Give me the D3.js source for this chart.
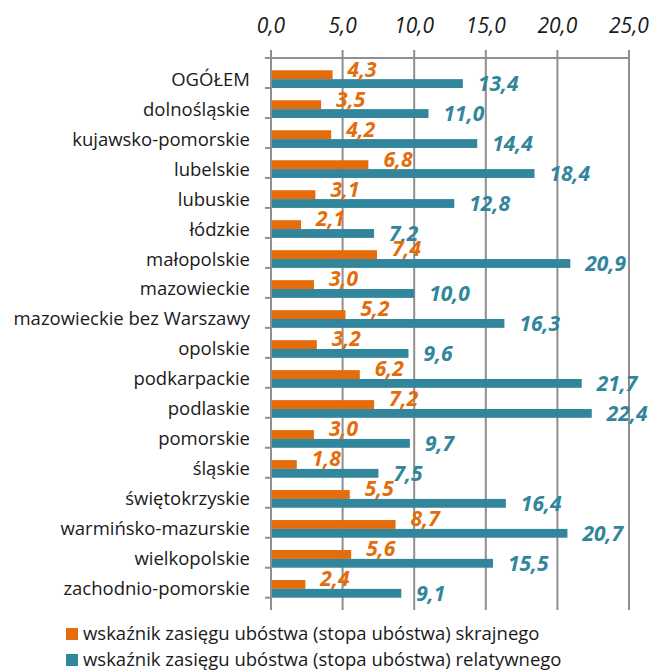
<!DOCTYPE html>
<html>
<head>
<meta charset="utf-8">
<script src="https://cdn.jsdelivr.net/npm/d3@7"></script>
<style>
  body { margin: 0; background: #fff; }
  text { font-family: "Open Sans", sans-serif; }
</style>
</head>
<body>
<div id="chart"></div>
<script>
const width = 653;
const height = 670;

const margin = { top: 58, left: 271, right: 24, bottom: 60 };

// data
const categories = ["OGÓŁEM", "dolnośląskie", "kujawsko-pomorskie", "lubelskie", "lubuskie",
    "łódzkie", "małopolskie", "mazowieckie", "mazowieckie bez Warszawy", "opolskie",
    "podkarpackie", "podlaskie", "pomorskie", "śląskie", "świętokrzyskie",
    "warmińsko-mazurskie", "wielkopolskie", "zachodnio-pomorskie"];
const skrajne = [4.3, 3.5, 4.2, 6.8, 3.1, 2.1, 7.4, 3.0, 5.2, 3.2, 6.2, 7.2, 3.0, 1.8, 5.5, 8.7, 5.6, 2.4];
const relatywne = [13.4, 11.0, 14.4, 18.4, 12.8, 7.2, 20.9, 10.0, 16.3, 9.6, 21.7, 22.4, 9.7, 7.5, 16.4, 20.7, 15.5, 9.1];
const seriesNames = ["wskaźnik zasięgu ubóstwa (stopa ubóstwa) skrajnego",
    "wskaźnik zasięgu ubóstwa (stopa ubóstwa) relatywnego"];
const xTicks = [0, 5, 10, 15, 20, 25];

const colors = ["#e46c0a", "#31869b"];
const gridColor = "#8f8f8f";

const rows = categories.map((c, i) => ({ cat: c, values: [skrajne[i], relatywne[i]] }));

const fmt = v => d3.format(".1f")(v).replace(".", ",");

// scales
const x = d3.scaleLinear().domain([0, 25]).range([margin.left, width - margin.right]);
const y = d3.scaleBand().domain(categories).range([margin.top, height - margin.bottom]).padding(0.41);
const ySub = d3.scaleBand().domain([0, 1]).range([0, y.bandwidth()]);
const step = y.step();

const svg = d3.select("#chart").append("svg").attr("width", width).attr("height", height);

// vertical gridlines
svg.append("g")
    .selectAll("line")
    .data(xTicks)
    .join("line")
    .attr("x1", d => x(d)).attr("x2", d => x(d))
    .attr("y1", margin.top - 8).attr("y2", height - margin.bottom)
    .attr("stroke", gridColor).attr("stroke-width", 2);

// top axis line
svg.append("line")
    .attr("x1", x(0) - 6).attr("x2", x(25) + 1)
    .attr("y1", margin.top).attr("y2", margin.top)
    .attr("stroke", gridColor).attr("stroke-width", 2);

// category ticks
svg.append("g")
    .selectAll("line")
    .data(d3.range(categories.length + 1))
    .join("line")
    .attr("x1", x(0) - 6).attr("x2", x(0))
    .attr("y1", i => margin.top + i * step).attr("y2", i => margin.top + i * step)
    .attr("stroke", gridColor).attr("stroke-width", 2);

// x tick labels
svg.append("g")
    .selectAll("text")
    .data(xTicks)
    .join("text")
    .attr("x", d => x(d))
    .attr("y", 33)
    .attr("text-anchor", "middle")
    .style("font-size", "21px")
    .style("font-style", "italic")
    .style("fill", "#1a1a1a")
    .text(fmt);

// category labels
svg.append("g")
    .selectAll("text")
    .data(categories)
    .join("text")
    .attr("x", 250)
    .attr("y", d => y(d) + y.bandwidth() / 2)
    .attr("dy", "0.35em")
    .attr("text-anchor", "end")
    .style("font-size", "18.5px")
    .style("fill", "#1a1a1a")
    .text(d => d);

// bars
const groups = svg.append("g")
    .selectAll("g")
    .data(rows)
    .join("g")
    .attr("transform", d => `translate(0,${y(d.cat)})`);

groups.selectAll("rect")
    .data(d => d.values)
    .join("rect")
    .attr("x", x(0) + 1)
    .attr("y", (d, i) => ySub(i))
    .attr("width", d => x(d) - x(0) - 1)
    .attr("height", ySub.bandwidth())
    .attr("fill", (d, i) => colors[i]);

groups.selectAll("text")
    .data(d => d.values)
    .join("text")
    .attr("x", d => x(d) + 15)
    .attr("y", (d, i) => ySub(i) + ySub.bandwidth() / 2 - (i === 0 ? 5.5 : -0.5))
    .attr("dy", "0.35em")
    .style("font-size", "21px")
    .style("font-weight", "bold")
    .style("font-style", "italic")
    .style("fill", (d, i) => colors[i])
    .text(fmt);

// legend
const legend = svg.append("g")
    .selectAll("g")
    .data(seriesNames)
    .join("g")
    .attr("transform", (d, i) => `translate(66,${628 + i * 26})`);

legend.append("rect")
    .attr("width", 12).attr("height", 12)
    .attr("fill", (d, i) => colors[i]);

legend.append("text")
    .attr("x", 17)
    .attr("y", 6)
    .attr("dy", "0.35em")
    .style("font-size", "18.5px")
    .style("fill", "#1a1a1a")
    .text(d => d);
</script>
</body>
</html>
